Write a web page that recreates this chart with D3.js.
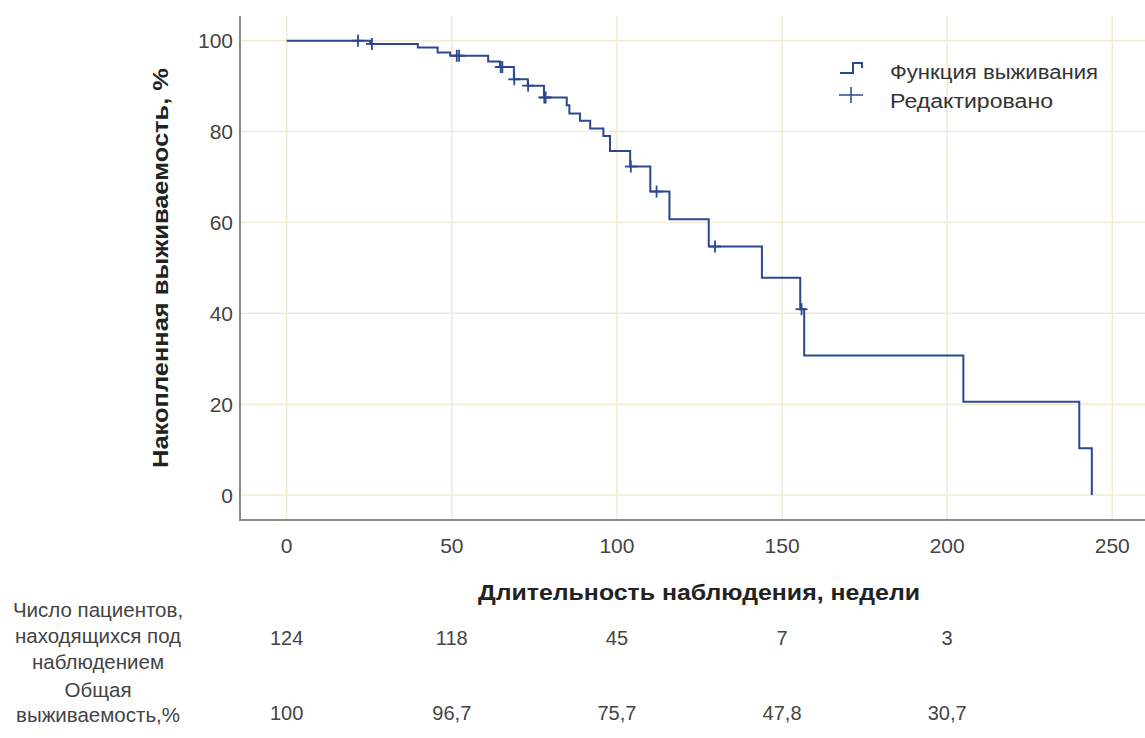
<!DOCTYPE html>
<html>
<head>
<meta charset="utf-8">
<script src="https://cdn.jsdelivr.net/npm/d3@7"></script>
<style>
  html, body { margin: 0; padding: 0; background: #fff; }
  svg { display: block; font-family: "Liberation Sans", Arial, sans-serif; }
</style>
</head>
<body>
<svg id="chart" width="1145" height="738"></svg>
<script>
// Kaplan–Meier step function: event times (weeks) and survival after each step (%)
const stepTimes = [0, 25.3, 39.7, 45.7, 49.5, 61.0, 64.6, 68.8, 73.0, 77.9, 84.8, 85.6, 88.8, 91.9, 95.9, 97.9, 104.0, 110.1, 115.9, 127.8, 143.9, 155.5, 156.7, 204.9, 240.0, 243.8];
const stepSurvival = [100, 99.3, 98.5, 97.4, 96.7, 95.4, 94.2, 91.5, 90.1, 87.5, 85.8, 84.0, 82.4, 80.7, 79.0, 75.7, 72.3, 66.8, 60.7, 54.7, 47.8, 40.9, 30.7, 20.5, 10.3, 0];

// Censored observations (weeks)
const censoredTimes = [21.6, 25.8, 51.5, 52.2, 64.8, 65.3, 68.9, 73.1, 78.0, 78.4, 104.2, 112.0, 129.7, 155.9];

// Axis ticks
const xTicks = [0, 50, 100, 150, 200, 250];
const yTicks = [0, 20, 40, 60, 80, 100];

// Numbers-at-risk table
const tableTimes = [0, 50, 100, 150, 200];
const atRisk = ["124", "118", "45", "7", "3"];
const survivalAt = ["100", "96,7", "75,7", "47,8", "30,7"];
const atRiskLabel = ["Число пациентов,", "находящихся под", "наблюдением"];
const survivalLabel = ["Общая", "выживаемость,%"];

const legendLabels = ["Функция выживания", "Редактировано"];
const xTitle = "Длительность наблюдения, недели";
const yTitle = "Накопленная выживаемость, %";

const svg = d3.select("#chart");
const W = 1145;

const x = d3.scaleLinear().domain([0, 250]).range([286.7, 1112.3]);
const y = d3.scaleLinear().domain([0, 100]).range([495, 40.7]);

const plotLeft = 240, plotTop = 16, plotBottom = 520, plotRight = W;
const lineColor = "#2a4790";
const gridColor = "#f0ecd6";

// grid
const grid = svg.append("g");
grid.selectAll(".gx").data(xTicks).join("line")
  .attr("x1", d => x(d)).attr("x2", d => x(d))
  .attr("y1", plotTop).attr("y2", plotBottom)
  .attr("stroke", gridColor).attr("stroke-width", 1.5);
grid.selectAll(".gy").data(yTicks).join("line")
  .attr("x1", plotLeft).attr("x2", plotRight)
  .attr("y1", d => y(d)).attr("y2", d => y(d))
  .attr("stroke", gridColor).attr("stroke-width", 1.5);

// axis lines
svg.append("line").attr("x1", plotLeft).attr("x2", plotLeft)
  .attr("y1", plotTop).attr("y2", plotBottom)
  .attr("stroke", "#8a8a8a").attr("stroke-width", 2);
svg.append("line").attr("x1", plotLeft - 1).attr("x2", plotRight)
  .attr("y1", plotBottom).attr("y2", plotBottom)
  .attr("stroke", "#8a8a8a").attr("stroke-width", 2);

// tick labels
svg.append("g").selectAll("text").data(xTicks).join("text")
  .attr("x", d => x(d)).attr("y", 553)
  .attr("text-anchor", "middle")
  .attr("font-size", 21).attr("fill", "#444")
  .text(d => d);
svg.append("g").selectAll("text").data(yTicks).join("text")
  .attr("x", 233).attr("y", d => y(d) + 7.5)
  .attr("text-anchor", "end")
  .attr("font-size", 21).attr("fill", "#444")
  .text(d => d);

// survival curve
const pts = stepTimes.map((t, i) => [t, stepSurvival[i]]);
const line = d3.line().x(d => x(d[0])).y(d => y(d[1])).curve(d3.curveStepAfter);
svg.append("path").datum(pts)
  .attr("d", line).attr("fill", "none")
  .attr("stroke", lineColor).attr("stroke-width", 2);

// survival value at time t
function S(t) {
  let v = 100;
  for (let i = 0; i < stepTimes.length; i++) if (stepTimes[i] <= t) v = stepSurvival[i];
  return v;
}

// censor marks
const cm = svg.append("g").attr("stroke", lineColor).attr("stroke-width", 1.8);
censoredTimes.forEach(t => {
  const cx = x(t), cy = y(S(t));
  cm.append("line").attr("x1", cx).attr("x2", cx).attr("y1", cy - 6).attr("y2", cy + 6);
  cm.append("line").attr("x1", cx - 6).attr("x2", cx + 6).attr("y1", cy).attr("y2", cy);
});

// legend
const lg = svg.append("g");
lg.append("path").attr("d", "M840,73H853V63H862V68")
  .attr("fill", "none").attr("stroke", lineColor).attr("stroke-width", 2);
lg.append("line").attr("x1", 839).attr("x2", 863).attr("y1", 95).attr("y2", 95)
  .attr("stroke", lineColor).attr("stroke-width", 1.5);
lg.append("line").attr("x1", 851).attr("x2", 851).attr("y1", 87).attr("y2", 103)
  .attr("stroke", lineColor).attr("stroke-width", 1.5);
const legendWidths = [208, 163];
lg.selectAll("text").data(legendLabels).join("text")
  .attr("x", 890).attr("y", (d, i) => 79 + i * 29)
  .attr("font-size", 20).attr("fill", "#333")
  .attr("textLength", (d, i) => legendWidths[i]).attr("lengthAdjust", "spacingAndGlyphs")
  .text(d => d);

// axis titles
svg.append("text").attr("x", 699).attr("y", 600)
  .attr("text-anchor", "middle").attr("font-size", 22).attr("font-weight", "bold")
  .attr("textLength", 442).attr("lengthAdjust", "spacingAndGlyphs")
  .attr("fill", "#222").text(xTitle);
svg.append("text").attr("transform", "translate(168,268) rotate(-90)")
  .attr("text-anchor", "middle").attr("font-size", 22).attr("font-weight", "bold")
  .attr("textLength", 400).attr("lengthAdjust", "spacingAndGlyphs")
  .attr("fill", "#222").text(yTitle);

// numbers-at-risk table
const tbl = svg.append("g").attr("font-size", 20).attr("fill", "#444");
tbl.selectAll(".r1").data(tableTimes).join("text")
  .attr("x", d => x(d)).attr("y", 645).attr("text-anchor", "middle")
  .text((d, i) => atRisk[i]);
tbl.selectAll(".r2").data(tableTimes).join("text")
  .attr("x", d => x(d)).attr("y", 720).attr("text-anchor", "middle")
  .text((d, i) => survivalAt[i]);
tbl.selectAll(".l1").data(atRiskLabel).join("text")
  .attr("x", 98).attr("y", (d, i) => 617 + i * 26).attr("text-anchor", "middle")
  .attr("font-size", 20.5)
  .text(d => d);
tbl.selectAll(".l2").data(survivalLabel).join("text")
  .attr("x", 98).attr("y", (d, i) => 697 + i * 25).attr("text-anchor", "middle")
  .attr("font-size", 20.5)
  .text(d => d);
</script>
</body>
</html>
